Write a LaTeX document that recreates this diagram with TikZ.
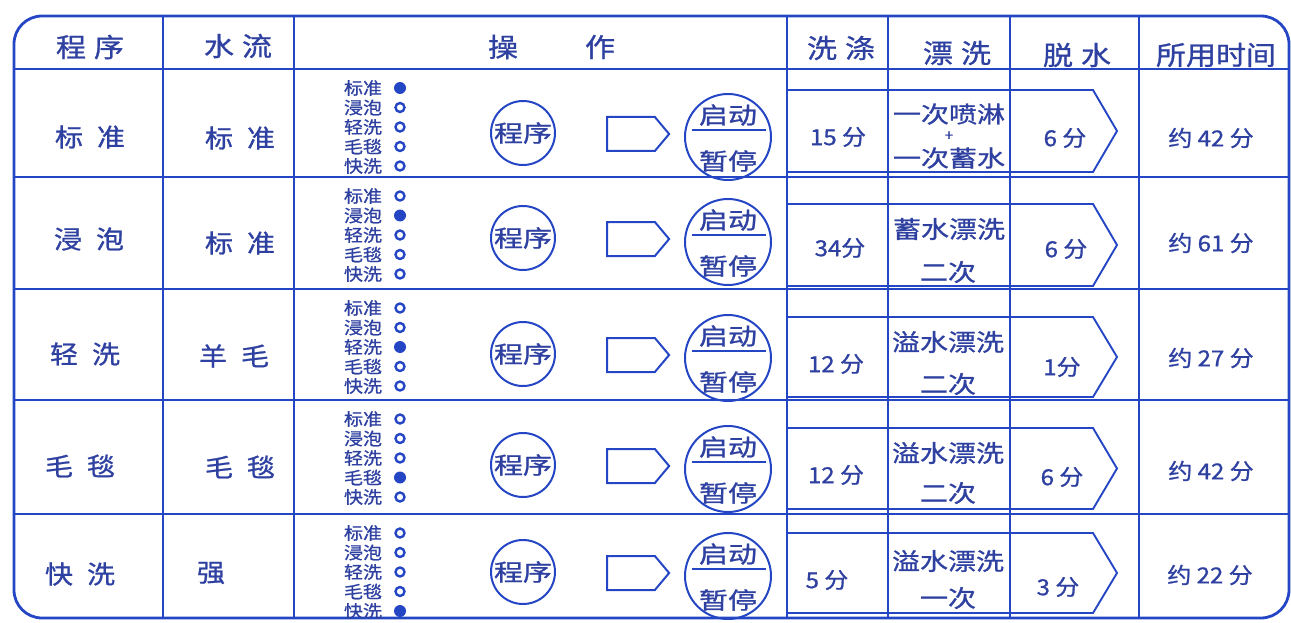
\documentclass[tikz,border=0pt]{standalone}
\usepackage{fontspec}
\setmainfont{Noto Sans CJK SC}[FakeBold=0.9]
\usepackage{graphicx}
\usetikzlibrary{shapes.symbols}
\definecolor{ln}{RGB}{36,70,196}
\definecolor{tx}{RGB}{46,64,160}
\newcommand{\vsq}[2]{\scalebox{1}[#1]{#2}}
\tikzset{
  frame/.style={draw=ln,line width=2.8pt},
  gridline/.style={draw=ln,line width=2.3pt},
  band/.style={draw=ln,line width=1.9pt,line join=miter},
  hdr/.style={text=tx,font=\fontsize{30}{30}\selectfont,inner sep=0pt},
  lbl/.style={text=tx,font=\fontsize{28}{28}\selectfont,inner sep=0pt},
  val/.style={text=tx,font=\fontsize{24}{24}\selectfont,inner sep=0pt},
  rin/.style={text=tx,font=\fontsize{29}{29}\selectfont,inner sep=0pt},
  smalltx/.style={text=tx,font=\fontsize{19}{19}\selectfont,inner sep=0pt},
  plustx/.style={text=tx,font=\fontsize{15}{15}\selectfont,inner sep=0pt},
  opn/.style={circle,draw=ln,line width=2.4pt,minimum size=9pt,inner sep=0pt},
  ful/.style={circle,fill=ln,minimum size=12pt,inner sep=0pt},
  ring/.style={circle,draw=ln,line width=2pt,inner sep=0pt},
  arrowbox/.style={draw=ln,line width=2pt,signal,signal to=east,signal pointer angle=100,minimum width=62pt,minimum height=34pt,inner sep=0pt},
}
\begin{document}
\begin{tikzpicture}[x=1pt,y=-1pt]
\useasboundingbox (0,0) rectangle (1291,623);
% outer frame
\draw[frame,rounded corners=28pt] (14,300) -- (14,16) -- (1289,16) -- (1289,618) -- (14,618) -- cycle;
% horizontal rules
\foreach \yy in {69,177,289,400,514} \draw[gridline] (14,\yy) -- (1289,\yy);
% vertical rules
\foreach \xx in {163,294,787,888,1010,1139} \draw[gridline] (\xx,16) -- (\xx,618);
% bands
\foreach \tp/\bt in {90/172,204/286,317/397,428/509,533/613}
  \draw[band] (787,\tp) -- (1093,\tp) -- (1117,{(\tp+\bt)/2}) -- (1093,\bt) -- (787,\bt);
% header
\node[hdr] (h1) at (90,47) {\vsq{0.88}{程\hspace{8pt}序}};
\node[hdr] (h2) at (238,46) {\vsq{0.88}{水\hspace{8pt}流}};
\node[hdr] (h3) at (503,47) {\vsq{0.88}{操}};
\node[hdr] (h4) at (600,47) {\vsq{0.88}{作}};
\node[hdr] (h5) at (841,48) {\vsq{0.88}{洗\hspace{8pt}涤}};
\node[hdr] (h6) at (957,53) {\vsq{0.88}{漂\hspace{8pt}洗}};
\node[hdr] (h7) at (1077,55) {\vsq{0.88}{脱\hspace{8pt}水}};
\node[hdr] (h8) at (1216,55) {\vsq{0.88}{所用时间}};
% first two columns
\node[lbl] (a1) at (90,137) {\vsq{0.9}{标\hspace{14pt}准}};
\node[lbl] (b1) at (240,138) {\vsq{0.9}{标\hspace{14pt}准}};
\node[lbl] (a2) at (89,239) {\vsq{0.9}{浸\hspace{14pt}泡}};
\node[lbl] (b2) at (240,243) {\vsq{0.9}{标\hspace{14pt}准}};
\node[lbl] (a3) at (85,354) {\vsq{0.9}{轻\hspace{14pt}洗}};
\node[lbl] (b3) at (234,356) {\vsq{0.9}{羊\hspace{14pt}毛}};
\node[lbl] (a4) at (80,466) {\vsq{0.9}{毛\hspace{14pt}毯}};
\node[lbl] (b4) at (240,467) {\vsq{0.9}{毛\hspace{14pt}毯}};
\node[lbl] (a5) at (80,574) {\vsq{0.9}{快\hspace{14pt}洗}};
\node[lbl] (b5) at (211,573) {\vsq{0.9}{强}};
% operation column
\foreach \T/\o/\sel [count=\r] in {69/133/1,177/238/2,289/354/3,400/465/4,514/572/5} {
  \foreach \lab [count=\k] in {标准,浸泡,轻洗,毛毯,快洗} {
    \node[smalltx] (l\r\k) at (363,{\T+19+19.5*(\k-1)}) {\vsq{0.9}{\lab}};
    \ifnum\k=\sel
      \node[ful] (d\r\k) at (400,{\T+19+19.5*(\k-1)}) {};
    \else
      \node[opn] (d\r\k) at (400,{\T+19+19.5*(\k-1)}) {};
    \fi
  }
  \node[ring,minimum size=64pt] (p\r) at (523,\o) {};
  \node[rin] (pt\r) at (p\r) {\vsq{0.8}{程序}};
  \node[arrowbox] (g\r) at (631,{\o+1}) {};
  \node[ring,minimum size=86pt] (s\r) at (728,{\o+4}) {};
  \draw[ln,line width=1.9pt] (692,{\o-3}) -- (766,{\o-3});
  \node[rin] (sa\r) at (728,{\o-18}) {\vsq{0.8}{启动}};
  \node[rin] (sb\r) at (728,{\o+28}) {\vsq{0.8}{暂停}};
}
% wash column
\node[val] (w1) at (838,137) {\vsq{0.92}{15 分}};
\node[val] (w2) at (840,248) {\vsq{0.92}{34分}};
\node[val] (w3) at (836,364) {\vsq{0.92}{12 分}};
\node[val] (w4) at (836,475) {\vsq{0.92}{12 分}};
\node[val] (w5) at (827,580) {\vsq{0.92}{5 分}};
% rinse column
\node[lbl] (r1a) at (949,114) {\vsq{0.82}{一次喷淋}};
\node[plustx] (r1p) at (949,136) {+};
\node[lbl] (r1b) at (949,158) {\vsq{0.82}{一次蓄水}};
\node[lbl] (r2a) at (949,229) {\vsq{0.85}{蓄水漂洗}};
\node[lbl] (r2b) at (948,272) {\vsq{0.85}{二次}};
\node[lbl] (r3a) at (948,342) {\vsq{0.85}{溢水漂洗}};
\node[lbl] (r3b) at (948,384) {\vsq{0.85}{二次}};
\node[lbl] (r4a) at (948,453) {\vsq{0.85}{溢水漂洗}};
\node[lbl] (r4b) at (948,493) {\vsq{0.85}{二次}};
\node[lbl] (r5a) at (948,561) {\vsq{0.85}{溢水漂洗}};
\node[lbl] (r5b) at (948,598) {\vsq{0.85}{一次}};
% spin column
\node[val] (s1v) at (1065,138) {\vsq{0.92}{6 分}};
\node[val] (s2v) at (1066,249) {\vsq{0.92}{6 分}};
\node[val] (s3v) at (1062,367) {\vsq{0.92}{1分}};
\node[val] (s4v) at (1062,477) {\vsq{0.92}{6 分}};
\node[val] (s5v) at (1058,587) {\vsq{0.92}{3 分}};
% total time column
\node[val] (t1) at (1211,138) {\vsq{0.92}{约 42 分}};
\node[val] (t2) at (1211,243) {\vsq{0.92}{约 61 分}};
\node[val] (t3) at (1211,358) {\vsq{0.92}{约 27 分}};
\node[val] (t4) at (1211,471) {\vsq{0.92}{约 42 分}};
\node[val] (t5) at (1210,575) {\vsq{0.92}{约 22 分}};
\end{tikzpicture}
\end{document}
